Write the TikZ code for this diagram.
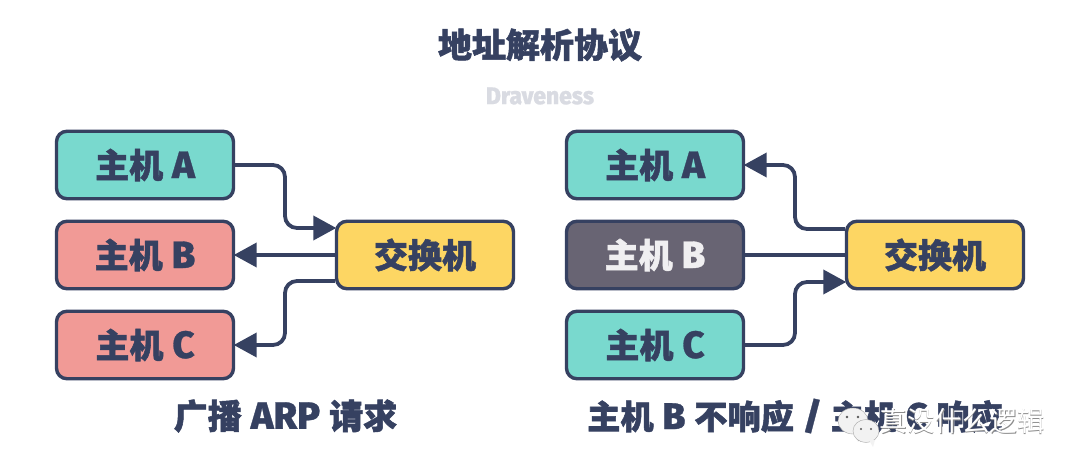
\documentclass[tikz,border=0pt]{standalone}
\usepackage{fontspec}
\setmainfont{Fira Sans}
\newfontfamily\cjkb[FakeBold=1.6]{Noto Sans CJK SC Black}
\newfontfamily\latb[FakeBold=0.8,Scale=1.12]{Fira Sans ExtraBold}
\newfontfamily\cjkl{Noto Sans CJK SC}
\usetikzlibrary{arrows.meta,calc}
\definecolor{ink}{HTML}{364161}
\definecolor{tealbox}{HTML}{79D9CE}
\definecolor{rosy}{HTML}{F19A96}
\definecolor{sun}{HTML}{FDD663}
\definecolor{slate}{HTML}{686473}
\definecolor{pale}{HTML}{D9DBE2}
\definecolor{wm}{HTML}{F2F2F2}
\newcommand{\zhb}[1]{{\cjkb #1}}
\newcommand{\ltb}[1]{{\latb #1}}
\tikzset{
 box/.style={draw=ink,line width=3.4pt,rounded corners=10.5pt,minimum width=177pt,minimum height=67.5pt,inner sep=0pt,text=ink,font=\fontsize{34}{36}\selectfont},
 conn/.style={draw=ink,line width=3.8pt,rounded corners=12pt},
 tip/.style={-{Triangle[length=23pt,width=24pt,inset=0pt]},shorten >=-1.5pt},
 label/.style={text=ink,inner sep=0pt,anchor=center}
}
\begin{document}
\begin{tikzpicture}[x=1pt,y=-1pt]
\useasboundingbox (0,0) rectangle (1080,470);
\fill[white] (0,0) rectangle (1080,470);
\node[label,font=\fontsize{34}{36}\selectfont] (title) at (540,45) {\zhb{地址解析协议}};
\node[text=pale,inner sep=0pt,font=\fontsize{21.5}{26}\selectfont] (auth) at (540,96) {\scalebox{.95}[1]{\ltb{Draveness}}};

\node[box,fill=tealbox] (a1) at (145,165) {\zhb{主机} \ltb{A}};
\node[box,fill=rosy] (b1) at (145,255) {\zhb{主机} \ltb{B}};
\node[box,fill=rosy] (c1) at (145,345) {\zhb{主机} \ltb{C}};
\node[box,fill=sun]  (s1) at (425,255) {\zhb{交换机}};

\node[box,fill=tealbox] (a2) at (655,165) {\zhb{主机} \ltb{A}};
\node[box,fill=slate,text=white!90!slate] (b2) at (655,255) {\zhb{主机} \ltb{B}};
\node[box,fill=tealbox] (c2) at (655,345) {\zhb{主机} \ltb{C}};
\node[box,fill=sun]  (s2) at (935,255) {\zhb{交换机}};

\draw[conn,tip] (a1.east) -- (285,165) -- (285,228) -- ([yshift=27pt]s1.west);
\draw[conn,tip] (s1.west) -- (b1.east);
\draw[conn,tip] ([yshift=-26pt]s1.west) -- (285,281) -- (285,345) -- (c1.east);

\draw[conn,tip] ([yshift=26pt]s2.west) -- (795,229) -- (795,165) -- (a2.east);
\draw[conn] (s2.west) -- (b2.east);
\draw[conn,tip] (c2.east) -- (795,345) -- (795,282) -- ([yshift=-27pt]s2.west);

\node[label,font=\fontsize{34}{36}\selectfont] (cap1) at (285.5,416) {\zhb{广播} \ltb{ARP} \zhb{请求}};
\node[label,font=\fontsize{33.2}{36}\selectfont] (cap2) at (795,416) {\zhb{主机} \ltb{B} \zhb{不响应} \ltb{/} \zhb{主机} \ltb{C} \zhb{响应}};

% watermark
\fill[wm,draw=black!35,line width=.4pt] (853,421) ellipse (15pt and 13pt);
\fill[wm,draw=black!35,line width=.4pt] (858,433) -- (858,441) -- (864,435) -- cycle;
\fill[wm,draw=black!35,line width=.4pt] (866,431) ellipse (13pt and 11.5pt);
\fill[wm,draw=none] (869,440) -- (873,447) -- (875,440) -- cycle;
\fill[black!65] (847,417) circle (1.4pt) (858,417) circle (1.4pt) (861,429) circle (1.2pt) (871,429) circle (1.2pt);
\node[inner sep=0pt,text=black!45,font=\cjkl\fontsize{27.5}{30}\selectfont] (wm2) at (962.8,421.8) {真没什么逻辑};
\node[inner sep=0pt,text=white,font=\cjkl\fontsize{27.5}{30}\selectfont] (wm1) at (962,421) {真没什么逻辑};
\end{tikzpicture}
\end{document}
